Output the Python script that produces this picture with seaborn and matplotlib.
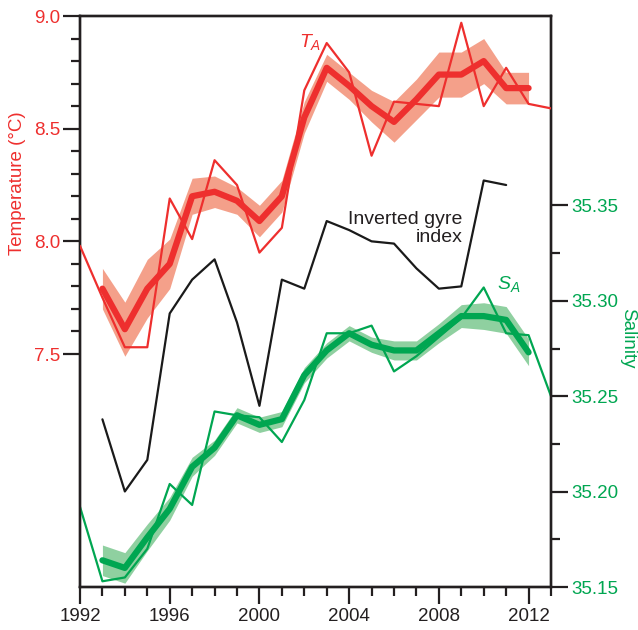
import numpy as np
import pandas as pd
import matplotlib
matplotlib.use("Agg")
import matplotlib.pyplot as plt
import seaborn as sns

# ---- data -------------------------------------------------------------
years_annual = list(range(1992, 2014))
temp_annual = [7.98, 7.75, 7.53, 7.53, 8.19, 8.01, 8.36, 8.25, 7.95, 8.06, 8.67,
               8.88, 8.75, 8.38, 8.62, 8.61, 8.60, 8.97, 8.60, 8.77, 8.61, 8.59]
sal_annual = [35.192, 35.153, 35.155, 35.170, 35.204, 35.193, 35.242, 35.240,
              35.239, 35.226, 35.248, 35.283, 35.283, 35.287, 35.263, 35.271,
              35.281, 35.291, 35.307, 35.283, 35.282, 35.250]

years_smooth = list(range(1993, 2013))
temp_smooth = [7.79, 7.61, 7.79, 7.90, 8.20, 8.22, 8.18, 8.09, 8.20, 8.55,
               8.77, 8.69, 8.60, 8.53, 8.63, 8.74, 8.74, 8.80, 8.68, 8.68]
temp_err = [0.09, 0.12, 0.13, 0.11, 0.08, 0.07, 0.06, 0.07, 0.07, 0.07,
            0.06, 0.06, 0.07, 0.09, 0.09, 0.10, 0.10, 0.10, 0.07, 0.07]
sal_smooth = [35.164, 35.160, 35.176, 35.191, 35.213, 35.223, 35.240, 35.235,
              35.238, 35.261, 35.274, 35.283, 35.277, 35.274, 35.274, 35.283,
              35.292, 35.292, 35.290, 35.273]
sal_err = [0.008, 0.008, 0.007, 0.006, 0.005, 0.004, 0.004, 0.004, 0.004, 0.004,
           0.004, 0.004, 0.004, 0.005, 0.005, 0.005, 0.006, 0.007, 0.007, 0.007]

# inverted gyre index, drawn on the temperature scale (unitless curve)
years_gyre = list(range(1993, 2012))
gyre_index = [7.21, 6.89, 7.03, 7.68, 7.83, 7.92, 7.64, 7.27, 7.83, 7.79,
              8.09, 8.05, 8.00, 7.99, 7.88, 7.79, 7.80, 8.27, 8.25]

temp_ticks = [7.5, 8.0, 8.5, 9.0]
sal_ticks = [35.15, 35.20, 35.25, 35.30, 35.35]
year_ticks = [1992, 1996, 2000, 2004, 2008, 2012]

# ---- style ------------------------------------------------------------
RED = "#EE2F2E"
RED_BAND = "#F4A08A"
GREEN = "#00A651"
GREEN_BAND = "#8FD0A0"
INK = "#231f20"
FS = 13.5

sns.set_style("ticks")
plt.rcParams["font.family"] = ["Liberation Sans", "DejaVu Sans"]
plt.rcParams["mathtext.fontset"] = "custom"
plt.rcParams["mathtext.it"] = "Liberation Sans:italic"
plt.rcParams["mathtext.rm"] = "Liberation Sans"

fig = plt.figure(figsize=(6.38, 6.30), dpi=100)
ax = fig.add_axes([80 / 638, 1 - 587 / 630, 471 / 638, 571 / 630])
ax2 = ax.twinx()
ax.set_zorder(ax2.get_zorder() + 1)
ax.patch.set_visible(False)

df_ta = pd.DataFrame({"year": years_annual, "temp": temp_annual, "sal": sal_annual})
df_sm = pd.DataFrame({"year": years_smooth, "temp": temp_smooth, "terr": temp_err,
                      "sal": sal_smooth, "serr": sal_err})
df_gy = pd.DataFrame({"year": years_gyre, "gyre": gyre_index})

# salinity (right axis)
ax2.fill_between(df_sm["year"], df_sm["sal"] - df_sm["serr"], df_sm["sal"] + df_sm["serr"],
                 color=GREEN_BAND, lw=0, zorder=1)
sns.lineplot(data=df_sm, x="year", y="sal", ax=ax2, color=GREEN, lw=4.5, zorder=2)
sns.lineplot(data=df_ta, x="year", y="sal", ax=ax2, color=GREEN, lw=1.6, zorder=3)

# temperature (left axis) and gyre index
ax.fill_between(df_sm["year"], df_sm["temp"] - df_sm["terr"], df_sm["temp"] + df_sm["terr"],
                color=RED_BAND, lw=0, zorder=1)
sns.lineplot(data=df_sm, x="year", y="temp", ax=ax, color=RED, lw=4.5, zorder=2)
sns.lineplot(data=df_ta, x="year", y="temp", ax=ax, color=RED, lw=1.6, zorder=3)
sns.lineplot(data=df_gy, x="year", y="gyre", ax=ax, color="#1a1a1a", lw=1.6, zorder=3)

# ---- axes ---------------------------------------------------------------
ax.set_xlim(1992, 2013)
ax.set_ylim(6.466, 9.0)
ax2.set_ylim(35.15, 35.4493)

ax.set_xticks(year_ticks)
ax.set_xticks(range(1993, 2014), minor=True)
ax.set_yticks(temp_ticks)
ax.set_yticks([v / 10 for v in range(76, 90) if v % 5 != 0], minor=True)
ax2.set_yticks(sal_ticks)
ax2.set_yticks([35.175, 35.225, 35.275, 35.325], minor=True)

ax.set_yticklabels([f"{t:.1f}" for t in temp_ticks])
ax2.set_yticklabels([f"{t:.2f}" for t in sal_ticks])

for a in (ax, ax2):
    for s in a.spines.values():
        s.set_visible(True)
        s.set_color(INK)
        s.set_linewidth(1.7)
    a.set_xlabel("")
    a.set_ylabel("")

ax.tick_params(axis="both", which="major", length=12, width=1.6, color=INK,
               labelsize=FS, pad=2)
ax.tick_params(axis="both", which="minor", length=6.5, width=1.6, color=INK)
ax.tick_params(axis="y", which="major", labelcolor=RED, right=False)
ax.tick_params(axis="y", which="minor", right=False)
ax.tick_params(axis="x", which="major", labelcolor=INK, pad=3)
ax2.tick_params(axis="y", which="major", length=12, width=1.6, color=INK,
                labelsize=FS, labelcolor=GREEN, pad=3)
ax2.tick_params(axis="y", which="minor", length=6.5, width=1.6, color=INK)

# ---- labels -------------------------------------------------------------
fig.text(18 / 638, 1 - 183 / 630, "Temperature (°C)", rotation=90, color=RED,
         fontsize=FS, ha="center", va="center")
fig.text(628 / 638, 1 - 338 / 630, "Salinity", rotation=270, color=GREEN,
         fontsize=FS, ha="center", va="center")

ax.text(2001.78, 8.885, r"$T_A$", color=RED, fontsize=14, ha="left", va="center")
ax2.text(2010.6, 35.309, r"$S_A$", color=GREEN, fontsize=14, ha="left", va="center")
ax.text(2009.05, 8.057, "Inverted gyre\nindex", color=INK, fontsize=14,
        ha="right", va="center", multialignment="right", linespacing=1.05)

fig.savefig("out.png", dpi=100)
